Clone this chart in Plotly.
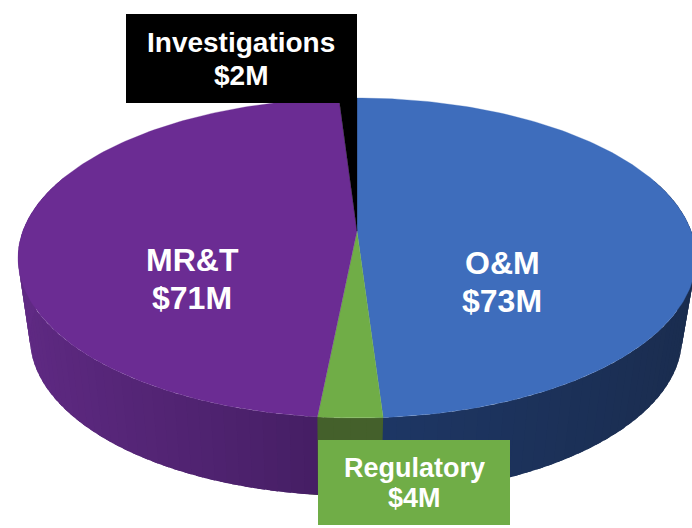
import numpy as np
import plotly.graph_objects as go

# ---- data ----
categories = ["O&M", "Regulatory", "MR&T", "Investigations"]
values = [73.2, 3.9, 70.9, 1.5]
value_labels = ["$73M", "$4M", "$71M", "$2M"]

# ---- styles ----
top_colors = ["#3E6DBC", "#70AD47", "#6B2C93", "#000000"]
side_near = [(30, 56, 104), (68, 96, 43), (64, 28, 94), (0, 0, 0)]    # colour close to the front
side_far = [(26, 44, 78), (68, 96, 43), (96, 42, 132), (0, 0, 0)]     # colour towards the edge

W, H = 692, 528
CX, TOP, MID, BOT = 357, 98, 231, 418
RX = 339
TOP_CY = 258
LOW_CX, LOW_CY, LOW_SX, LOW_SY = 356, 338, 326 / 339, 158 / 160

# projective circle -> ellipse mapping through the three anchors (far edge, centre, near edge)
c = (2 * MID - TOP - BOT) / (TOP - BOT)
b = TOP * (1 + c) - MID
k = RX * np.sqrt(1 - c * c)


def project(theta):
    """theta in radians, clockwise from the far point of the disc."""
    u, v = np.sin(theta), np.cos(theta)
    d = 1 + c * v
    return CX + k * u / d, (MID + b * v) / d


def lower(x, y):
    return LOW_CX + LOW_SX * (x - CX), LOW_CY + LOW_SY * (y - TOP_CY)


def mix(a, z, t):
    return "rgb(%d,%d,%d)" % tuple(round(a[i] + (z[i] - a[i]) * t) for i in range(3))


total = sum(values)
edges = np.cumsum([0] + values) / total * 2 * np.pi

fig = go.Figure()

# side wall, built from thin overlapping strips so that it can carry a gradient
step = np.radians(2)
for i, name in enumerate(categories):
    n = max(2, int((edges[i + 1] - edges[i]) / step))
    th = np.linspace(edges[i], edges[i + 1], n + 1)
    for a, z in zip(th[:-1], th[1:]):
        mid = (a + z) / 2
        if np.cos(mid) > 0.35:
            continue
        t = min(1.0, abs(np.sin(mid)) ** 0.8)
        col = mix(side_near[i], side_far[i], t)
        seg = np.linspace(a, z + (z - a) * 0.6, 5)
        xt, yt = project(seg)
        xb, yb = lower(xt, yt)
        fig.add_trace(go.Scatter(
            x=np.r_[xt, xb[::-1], xt[0]], y=np.r_[yt, yb[::-1], yt[0]],
            mode="none", fill="toself", fillcolor=col,
            hoverinfo="skip", showlegend=False))

# top faces
for i, name in enumerate(categories):
    th = np.linspace(edges[i], edges[i + 1], max(3, int((edges[i + 1] - edges[i]) / np.radians(1))))
    xs, ys = project(th)
    fig.add_trace(go.Scatter(
        x=np.r_[CX, xs, CX], y=np.r_[MID, ys, MID],
        mode="lines", fill="toself", fillcolor=top_colors[i],
        line=dict(color=top_colors[i], width=0.3),
        name=name, text=f"{name} {value_labels[i]}", hoverinfo="text", showlegend=False))

# label boxes
fig.add_shape(type="rect", x0=126, x1=357, y0=14, y1=103, fillcolor="#000000", line_width=0, layer="above")
fig.add_shape(type="rect", x0=318, x1=510, y0=440, y1=525, fillcolor="#70AD47", line_width=0, layer="above")

# label text: (centre x, name line y, value line y, font size)
label_pos = {"O&M": (502, 263, 301, 32), "Regulatory": (414, 468, 498, 27),
             "MR&T": (192, 260, 298, 32), "Investigations": (241, 42, 75, 28)}
for name, val in zip(categories, value_labels):
    x, y1, y2, size = label_pos[name]
    for text, y in ((name, y1), (val, y2)):
        fig.add_annotation(x=x, y=y, text=text.replace("&", "&amp;"), showarrow=False,
                           xanchor="center", yanchor="middle",
                           font=dict(family="Liberation Sans", size=size, color="#FFFFFF", weight="bold"))

fig.update_layout(
    width=W, height=H, margin=dict(l=0, r=0, t=0, b=0), autosize=False,
    paper_bgcolor="#FFFFFF", plot_bgcolor="#FFFFFF", showlegend=False,
    xaxis=dict(range=[0, W], visible=False, fixedrange=True),
    yaxis=dict(range=[H, 0], visible=False, fixedrange=True),
)
fig.write_html("out.html", config=dict(displayModeBar=False),
               post_script="document.body.style.margin='0';document.body.style.overflow='hidden';")
